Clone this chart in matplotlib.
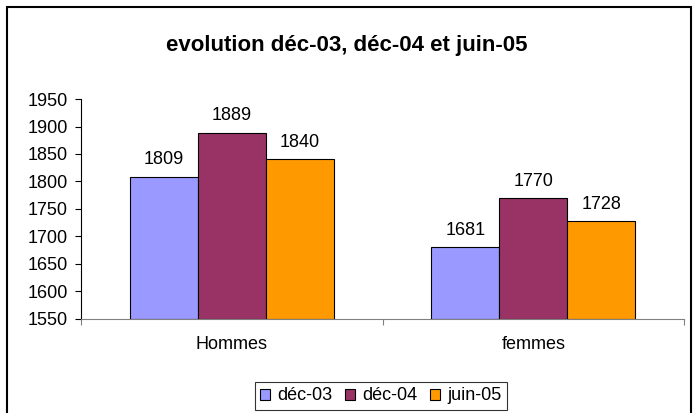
import matplotlib
matplotlib.use("Agg")
import matplotlib.pyplot as plt
from matplotlib.patches import Rectangle
import numpy as np

plt.rcParams['font.family'] = ['Liberation Sans', 'DejaVu Sans']

categories = ["Hommes", "femmes"]
series_names = ["déc-03", "déc-04", "juin-05"]
dec03 = [1809, 1681]
dec04 = [1889, 1770]
juin05 = [1840, 1728]
colors = ["#9999FF", "#993366", "#FF9900"]
yticks = [1550, 1600, 1650, 1700, 1750, 1800, 1850, 1900, 1950]

W, H = 693, 413
fig = plt.figure(figsize=(W / 100, H / 100), dpi=100)
ax = fig.add_axes([81 / W, 1 - 319 / H, (684 - 81) / W, (319 - 99) / H])

fs = 13
x = np.arange(len(categories))
bw = 0.225
for i, (vals, name, c) in enumerate(zip([dec03, dec04, juin05], series_names, colors)):
    pos = x + (i - 1) * bw
    ax.bar(pos, [v - 1550 for v in vals], bottom=1550, width=bw, color=c,
           edgecolor="black", linewidth=0.8, label=name)
    for p, v in zip(pos, vals):
        ax.text(p, v + 15, str(v), ha="center", va="bottom", fontsize=fs)

ax.set_xlim(-0.5, 1.5)
ax.set_ylim(1550, 1950)
ax.set_yticks(yticks)
ax.set_yticklabels([str(t) for t in yticks], fontsize=fs)
ax.set_xticks([-0.5, 0.5, 1.5])
ax.set_xticklabels([])
ax.set_xticks(x, minor=True)
ax.set_xticklabels(categories, minor=True, fontsize=fs)
ax.tick_params(axis="x", which="minor", length=0, pad=12)
ax.tick_params(axis="x", which="major", length=4, direction="out", color="#808080")
ax.tick_params(axis="y", length=4.5, direction="out", pad=5)
for s in ["top", "right"]:
    ax.spines[s].set_visible(False)
ax.spines["bottom"].set_color("#808080")
ax.spines["left"].set_color("black")

fig.text(0.5, 1 - 45 / H, "evolution déc-03, déc-04 et juin-05", ha="center", va="center",
         fontsize=16, fontweight="bold")

leg = fig.legend(loc="center", bbox_to_anchor=(381 / W, 1 - 396 / H), ncol=3, fontsize=fs,
                 frameon=True, fancybox=False, edgecolor="black", handlelength=0.55,
                 handleheight=0.55, handletextpad=0.4, columnspacing=0.7, borderpad=0.3)
leg.get_frame().set_linewidth(0.8)

fig.patches.append(Rectangle((7 / W, -0.05), (691 - 7) / W, 1.05 - 7 / H,
                             transform=fig.transFigure, fill=False, edgecolor="black",
                             linewidth=1.5))

fig.savefig("out.png", dpi=100)
